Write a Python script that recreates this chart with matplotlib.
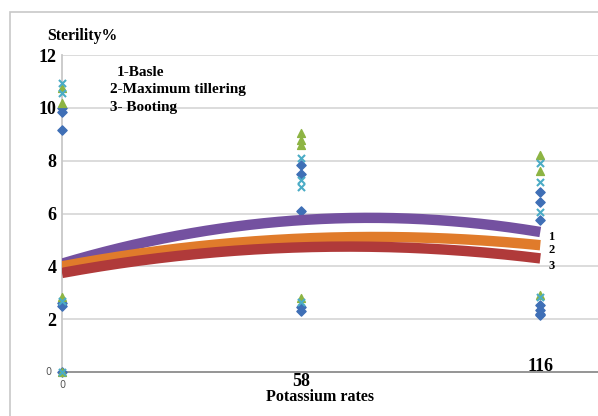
import numpy as np
import matplotlib.pyplot as plt
from matplotlib.patches import Rectangle

# potassium rates and replicate readings (sterility %)
rates = [0, 58, 116]
x_ticks = ["0", "58", "116"]

blue_x = [0, 0, 0, 0, 0, 0, 58, 58, 58, 58, 58, 116, 116, 116, 116, 116, 116, 116]
blue_y = [10.0, 9.85, 9.17, 2.6, 2.5, 0.0, 7.85, 7.5, 6.1, 2.45, 2.3,
          6.8, 6.45, 5.75, 2.55, 2.35, 2.2, 2.15]

green_x = [0, 0, 0, 0, 58, 58, 58, 58, 116, 116, 116]
green_y = [10.75, 10.2, 2.85, 0.0, 9.05, 8.8, 8.6, 2.8, 8.2, 7.6, 2.9]

cyan_x = [0, 0, 0, 0, 58, 58, 58, 58, 116, 116, 116, 116]
cyan_y = [10.95, 10.57, 2.7, 0.0, 8.1, 7.25, 7.0, 2.65, 7.9, 7.2, 6.05, 2.85]

# polynomial trend values at each rate
trend_basle = [4.1, 5.75, 5.3]
trend_tiller = [4.0, 5.05, 4.8]
trend_boot = [3.75, 4.72, 4.3]
trend_names = ["1", "2", "3"]
legend_lines = ["1-Basle", "2-Maximum tillering", "3- Booting"]

serif = ["Liberation Serif", "DejaVu Serif"]

fig = plt.figure(figsize=(5.98, 4.16), dpi=100)
fig.patches.append(Rectangle((10 / 598, -0.1), 1.0, 1.1 - 12 / 416,
                             transform=fig.transFigure, fill=False,
                             edgecolor="#c8c8c8", linewidth=1.2))

ax = fig.add_axes([62 / 598, 1 - 372 / 416, 1 - 62 / 598, (372 - 55) / 416])
ax.set_xlim(0, 130)
ax.set_ylim(0, 12)
for s in ["top", "right"]:
    ax.spines[s].set_visible(False)
ax.spines["left"].set_color("#c8c8c8")
ax.spines["bottom"].set_color("#8c8c8c")
ax.spines["left"].set_linewidth(1.3)
ax.spines["bottom"].set_linewidth(1.3)
ax.set_yticks(range(2, 13, 2))
ax.yaxis.grid(True, color="#d9d9d9", linewidth=1.3)
ax.set_axisbelow(True)
ax.tick_params(length=0, pad=4)
ax.set_yticklabels([str(v) for v in range(2, 13, 2)], fontfamily=serif,
                   fontweight="bold", fontsize=13)
ax.set_xticks([])

ax.text(-3.4, 0, "0", fontsize=7, color="#555555", ha="center", va="center")
ax.text(0, -0.5, x_ticks[0], fontsize=7, color="#555555", ha="center", va="center")
ax.text(58, -0.35, x_ticks[1], fontfamily=serif, fontweight="bold", fontsize=13,
        ha="center", va="center")
ax.text(116, 0.2, x_ticks[2], fontfamily=serif, fontweight="bold", fontsize=13,
        ha="center", va="center")
fig.text(320 / 598, 1 - 397 / 416, "Potassium rates", fontfamily=serif,
         fontweight="bold", fontsize=11.5, ha="center", va="center")
fig.text(47 / 598, 1 - 36 / 416, "Sterility%", fontfamily=serif,
         fontweight="bold", fontsize=11.3, ha="left", va="center")

legend_pos = [(117, 72), (110, 90), (110, 107)]
for (px, py), t in zip(legend_pos, legend_lines):
    fig.text(px / 598, 1 - py / 416, t, fontfamily=serif, fontweight="bold",
             fontsize=11, ha="left", va="center")

ax.scatter(blue_x, blue_y, marker="D", s=22, color="#3f6fb6", zorder=3, clip_on=False)
ax.scatter(green_x, green_y, marker="^", s=32, color="#8db443", zorder=3, clip_on=False)
ax.scatter(cyan_x, cyan_y, marker="x", s=26, color="#4bacc6", linewidths=1.5,
           zorder=3, clip_on=False)

xs = np.linspace(0, 116, 200)
trends = [trend_basle, trend_tiller, trend_boot]
colors = ["#7451a0", "#e07b2b", "#b03a3a"]
for vals, c, name in zip(trends, colors, trend_names):
    coef = np.polyfit(rates, vals, 2)
    ys = np.polyval(coef, xs)
    ax.plot(xs, ys, color=c, linewidth=7.5, solid_capstyle="butt", zorder=4)

label_y = [5.1, 4.6, 4.0]
for ly, name in zip(label_y, trend_names):
    ax.text(118, ly, name, fontfamily=serif, fontweight="bold", fontsize=9,
            ha="left", va="center")

fig.savefig("out.png", dpi=100)
